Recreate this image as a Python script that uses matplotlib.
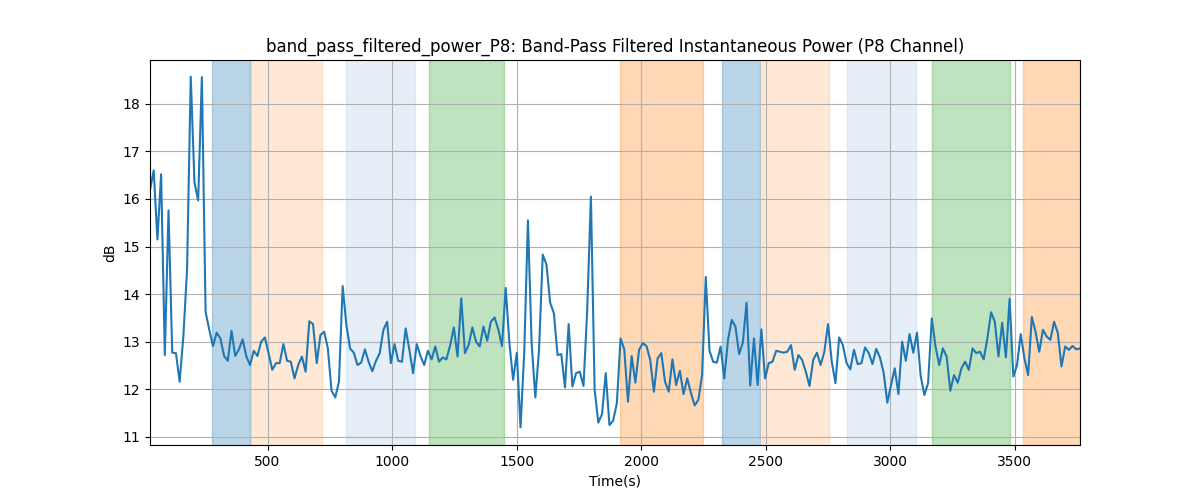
import numpy as np
import matplotlib
matplotlib.use("Agg")
import matplotlib.pyplot as plt

power_db = [16.19,16.60,15.15,16.52,12.72,15.76,12.77,12.76,12.16,13.11,14.51,18.57,16.35,15.97,18.56,13.63,13.25,12.91,13.19,13.07,
12.70,12.60,13.23,12.70,12.84,13.05,12.69,12.51,12.81,12.70,13.00,13.09,12.76,12.41,12.55,12.55,12.95,12.60,12.58,12.23,
12.51,12.69,12.37,13.43,13.37,12.55,13.14,13.21,12.86,11.97,11.83,12.16,14.17,13.35,12.86,12.77,12.51,12.56,12.84,12.58,
12.38,12.60,12.76,13.25,13.42,12.55,12.95,12.60,12.58,13.28,12.83,12.34,12.95,12.70,12.51,12.81,12.63,12.90,12.58,12.67,
12.63,12.92,13.30,12.69,13.91,12.76,12.93,13.30,13.00,12.90,13.32,13.02,13.42,13.51,13.26,12.91,14.13,12.97,12.20,12.77,
11.20,12.76,15.55,12.97,11.83,12.83,14.83,14.62,13.82,13.60,12.72,12.74,12.04,13.37,12.06,12.34,12.37,12.07,13.67,16.05,
11.99,11.30,11.48,12.34,11.25,11.34,11.71,13.07,12.84,11.74,
12.70,12.14,12.83,12.97,12.91,12.62,11.95,12.65,12.76,12.16,11.95,12.63,12.09,12.39,11.90,12.23,11.92,11.66,11.78,12.30,
14.36,12.81,12.58,12.56,12.90,12.23,13.04,13.46,13.32,12.74,12.98,13.82,12.08,13.07,12.09,13.26,12.23,12.55,12.58,12.81,
12.79,12.77,12.79,12.93,12.41,12.72,12.62,12.37,12.07,12.62,12.77,12.51,12.79,13.37,12.58,12.13,13.09,12.93,12.55,12.42,
12.83,12.53,12.55,12.88,12.76,12.53,12.85,12.67,12.35,11.72,12.09,12.44,11.90,13.00,12.60,13.16,12.77,13.19,12.28,11.88,
12.13,13.49,12.90,12.51,12.86,12.69,11.97,12.30,12.14,12.44,12.58,12.41,12.86,12.76,12.79,12.63,13.07,13.62,13.42,12.69,
13.40,12.67,13.90,12.27,12.51,13.16,12.65,12.30,13.52,13.21,12.79,13.25,13.11,13.04,13.42,13.19,12.48,12.90,12.83,12.91,
12.84,12.86]
t_start, t_end = 28, 3763
time_s = np.linspace(t_start, t_end, len(power_db))

span_starts = [277, 434, 815, 1149, 1916, 2325, 2486, 2827, 3169, 3534]
span_ends   = [430, 719, 1092, 1450, 2249, 2478, 2755, 3104, 3482, 3763]
span_colors = ["#1f77b4", "#ff7f0e", "#aec7e8", "#2ca02c", "#ff7f0e",
               "#1f77b4", "#ff7f0e", "#aec7e8", "#2ca02c", "#ff7f0e"]
span_alphas = [0.3, 0.17, 0.3, 0.3, 0.3, 0.3, 0.17, 0.3, 0.3, 0.3]

fig, ax = plt.subplots(figsize=(12, 5), dpi=100)
for s, e, c, a in zip(span_starts, span_ends, span_colors, span_alphas):
    ax.axvspan(s, e, color=c, alpha=a, zorder=0)
ax.plot(time_s, power_db, color="#1f77b4", lw=1.5)
ax.set_xlim(t_start, t_end)
ax.set_ylim(10.83, 18.92)
ax.grid(True, color="#b0b0b0")
ax.set_xlabel("Time(s)")
ax.set_ylabel("dB")
ax.set_title("band_pass_filtered_power_P8: Band-Pass Filtered Instantaneous Power (P8 Channel)")
fig.savefig("out.png")
